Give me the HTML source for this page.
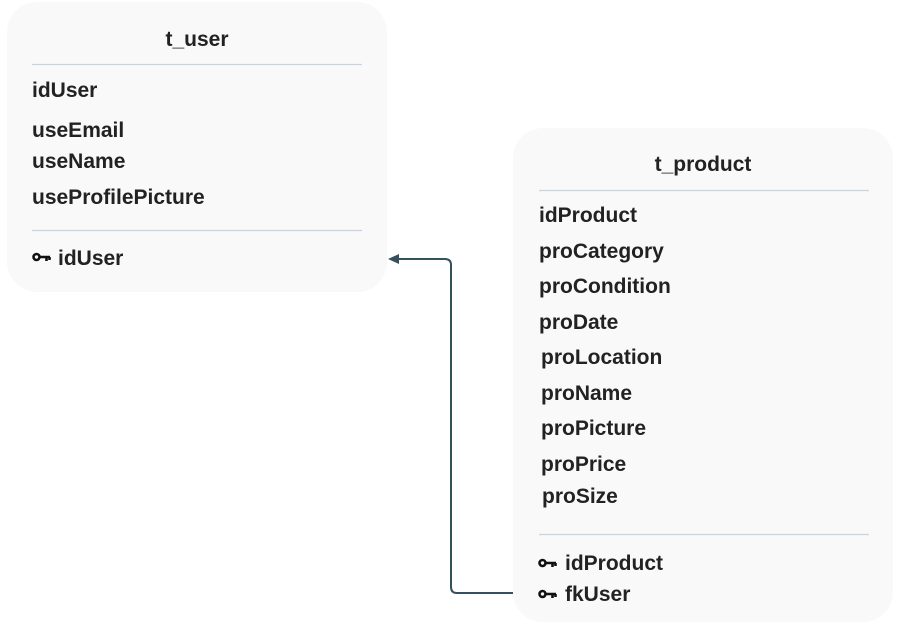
<!DOCTYPE html>
<html><head><meta charset="utf-8"><style>
html,body{margin:0;padding:0;background:#fff;}
svg text{font-family:"Liberation Sans",Arial,sans-serif;font-weight:bold;font-size:21px;fill:#222;}
</style></head><body>
<svg width="905" height="625" viewBox="0 0 905 625" xmlns="http://www.w3.org/2000/svg">
<defs>
<g id="key"><circle cx="3.5" cy="0" r="3" fill="none" stroke="#111" stroke-width="2.6"/><path d="M6 0 H17 M13.5 0 V4 M16.5 0 V3" stroke="#111" stroke-width="2.6" fill="none"/></g>
</defs>
<rect x="7" y="2" width="380" height="290" rx="30" fill="#f9f9f9"/>
<rect x="513" y="128" width="380" height="494" rx="30" fill="#f9f9f9"/>
<line x1="32" y1="64.5" x2="362" y2="64.5" stroke="#c8d4e6" stroke-width="1.2"/>
<line x1="32" y1="230.5" x2="362" y2="230.5" stroke="#c8d4e6" stroke-width="1.2"/>
<line x1="539" y1="190.5" x2="869" y2="190.5" stroke="#c8d4e6" stroke-width="1.2"/>
<line x1="539" y1="534.5" x2="869" y2="534.5" stroke="#c8d4e6" stroke-width="1.2"/>
<text x="197" y="46" text-anchor="middle">t_user</text>
<text x="32" y="97">idUser</text>
<text x="32" y="137">useEmail</text>
<text x="32" y="168">useName</text>
<text x="32" y="204">useProfilePicture</text>
<use href="#key" x="33" y="257"/>
<text x="58" y="265">idUser</text>
<text x="703" y="171" text-anchor="middle">t_product</text>
<text x="539" y="222">idProduct</text>
<text x="539" y="258">proCategory</text>
<text x="539" y="293">proCondition</text>
<text x="539" y="329">proDate</text>
<text x="541" y="364">proLocation</text>
<text x="541" y="400">proName</text>
<text x="541" y="435">proPicture</text>
<text x="541" y="471">proPrice</text>
<text x="542" y="503">proSize</text>
<use href="#key" x="539" y="563"/>
<text x="565" y="570">idProduct</text>
<use href="#key" x="539" y="594"/>
<text x="565" y="601">fkUser</text>
<path d="M513 593 H457 Q451 593 451 587 V265 Q451 259 445 259 H396" fill="none" stroke="#35505f" stroke-width="2"/>
<path d="M388 259 L399 254 L399 264 Z" fill="#35505f"/>
</svg>
</body></html>
